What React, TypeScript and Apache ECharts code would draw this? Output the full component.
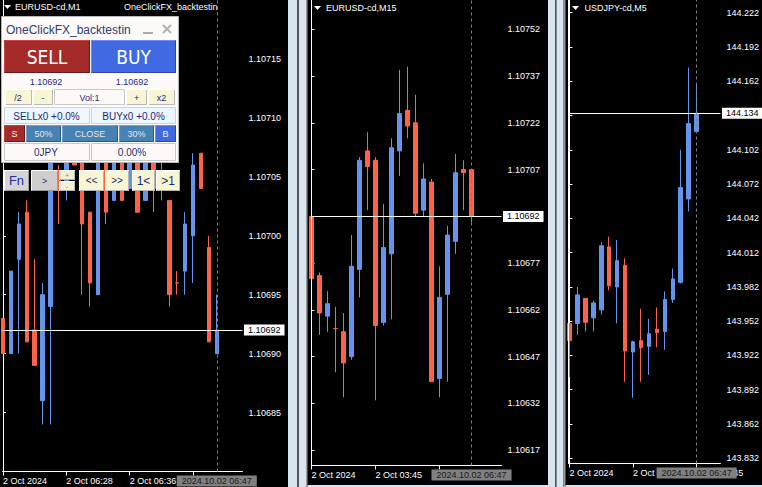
import React, { useEffect, useRef } from 'react';
import * as echarts from 'echarts';

// ---- EURUSD-cd, M1: bars as [open, close, low, high]
const m1Bars: number[][] = [
  [1.10693, 1.1069, 1.1069, 1.10693],
  [1.1069, 1.10697, 1.1069, 1.10697],
  [1.10698, 1.10701, 1.1069, 1.10702],
  [1.10702, 1.10691, 1.10691, 1.10703],
  [1.10692, 1.10689, 1.10689, 1.10698],
  [1.10686, 1.10695, 1.10684, 1.10696],
  [1.10694, 1.10707, 1.10684, 1.10708],
  [1.10705, 1.10704, 1.10701, 1.10706],
  [1.10704, 1.10707, 1.10703, 1.10708],
  [1.1071, 1.10706, 1.10706, 1.10711],
  [1.10707, 1.10701, 1.10695, 1.10708],
  [1.10702, 1.10696, 1.10694, 1.10702],
  [1.10695, 1.10709, 1.10695, 1.1071],
  [1.10708, 1.10702, 1.10701, 1.10709],
  [1.10703, 1.10708, 1.10703, 1.10709],
  [1.10709, 1.10703, 1.10703, 1.1071],
  [1.10704, 1.10708, 1.10704, 1.1071],
  [1.10708, 1.10702, 1.10702, 1.10709],
  [1.10703, 1.10708, 1.10703, 1.10709],
  [1.10708, 1.10704, 1.10702, 1.10709],
  [1.10705, 1.10704, 1.10703, 1.10707],
  [1.10703, 1.10695, 1.10694, 1.10703],
  [1.10696, 1.10696, 1.10695, 1.10697],
  [1.10697, 1.10701, 1.10695, 1.10702],
  [1.107, 1.10706, 1.10696, 1.10707],
  [1.10707, 1.10704, 1.10704, 1.10707],
  [1.10699, 1.10691, 1.10691, 1.107],
  [1.1069, 1.10692, 1.1069, 1.10695],
];
const m1PriceTicks = [1.10715, 1.1071, 1.10705, 1.107, 1.10695, 1.1069, 1.10685];
const m1TimeBars = [0, 8, 16, 24];
// the last tick's label sits under the cursor time box, so only the first three are written
const m1TimeLabels = ['2 Oct 2024', '2 Oct 06:28', '2 Oct 06:36'];
const m1Bid = 1.10692;
const m1CursorBar = 27;

// ---- EURUSD-cd, M15
const m15Bars: number[][] = [
  [1.10692, 1.10672, 1.10672, 1.10693],
  [1.10673, 1.10661, 1.10654, 1.10674],
  [1.1066, 1.10664, 1.10655, 1.10668],
  [1.10656, 1.10656, 1.10642, 1.10663],
  [1.10655, 1.10645, 1.10634, 1.10661],
  [1.10647, 1.10676, 1.10646, 1.10686],
  [1.10675, 1.1071, 1.10666, 1.10711],
  [1.10713, 1.10708, 1.10694, 1.10719],
  [1.1071, 1.10657, 1.10633, 1.10711],
  [1.10658, 1.10682, 1.10657, 1.10696],
  [1.1068, 1.10714, 1.10659, 1.10717],
  [1.10713, 1.10725, 1.10705, 1.10739],
  [1.10726, 1.10721, 1.10717, 1.1074],
  [1.10722, 1.10693, 1.10692, 1.10731],
  [1.10694, 1.10704, 1.10692, 1.10709],
  [1.10703, 1.10639, 1.10639, 1.10704],
  [1.1064, 1.10666, 1.10634, 1.10676],
  [1.10667, 1.10686, 1.10639, 1.10689],
  [1.10684, 1.10706, 1.1068, 1.10712],
  [1.10707, 1.10706, 1.10694, 1.1071],
  [1.10707, 1.10692, 1.1069, 1.10707],
];
const m15PriceTicks = [1.10752, 1.10737, 1.10722, 1.10707, 1.10692, 1.10677, 1.10662, 1.10647, 1.10632, 1.10617];
const m15TimeBars = [0, 8, 16];
const m15TimeLabels = ['2 Oct 2024', '2 Oct 03:45'];
const m15Bid = 1.10692;
const m15CursorBar = 20;

// ---- USDJPY-cd, M5
const m5Bars: number[][] = [
  [143.95, 143.935, 143.903, 143.95],
  [143.95, 143.975, 143.94, 143.982],
  [143.972, 143.951, 143.943, 143.972],
  [143.955, 143.968, 143.943, 143.97],
  [143.962, 144.018, 143.958, 144.021],
  [144.017, 143.983, 143.979, 144.026],
  [143.982, 144.005, 143.95, 144.023],
  [144.001, 143.926, 143.899, 144.007],
  [143.925, 143.934, 143.885, 143.935],
  [143.935, 143.929, 143.899, 143.963],
  [143.93, 143.941, 143.905, 143.954],
  [143.945, 143.942, 143.929, 143.964],
  [143.943, 143.971, 143.927, 143.978],
  [143.971, 143.989, 143.968, 143.998],
  [143.986, 144.069, 143.985, 144.102],
  [144.059, 144.125, 144.048, 144.174],
  [144.118, 144.134, 144.118, 144.159],
];
const m5PriceTicks = [
  144.222, 144.192, 144.162, 144.132, 144.102, 144.072, 144.042, 144.012, 143.982, 143.952, 143.922,
  143.892, 143.862, 143.832,
];
const m5TimeBars = [0, 8, 16];
const m5TimeLabels = ['2 Oct 2024', '2 Oct 06:05', '2 Oct 06:45'];
const m5Bid = 144.134;
const m5CursorBar = 16;

const cursorTime = '2024.10.02 06:47';

const BULL = '#6495ed';
const BEAR = '#ff6347';
const FONT = '"Liberation Sans", Arial, sans-serif';
const NARROW = '"Liberation Sans Narrow", "DejaVu Sans Condensed", "Liberation Sans", sans-serif';
const PANEL_TEXT = '#1c2a78';

type Panel = {
  grid: { left: number; top: number; width: number; height: number };
  xMin: number;
  xMax: number;
  yMin: number;
  yMax: number;
  bars: number[][];
  priceTicks: number[];
  digits: number;
  timeBars: number[];
  timeLabels: string[];
  bid: number;
  cursor: number;
};

const panels: Panel[] = [
  {
    grid: { left: 0, top: 0, width: 242.5, height: 471.5 },
    xMin: -0.0625, xMax: 30.25, yMin: 1.1068, yMax: 1.1072,
    bars: m1Bars, priceTicks: m1PriceTicks, digits: 5,
    timeBars: m1TimeBars, timeLabels: m1TimeLabels, bid: m1Bid, cursor: m1CursorBar,
  },
  {
    grid: { left: 311.5, top: 0, width: 190, height: 465.5 },
    xMin: 0, xMax: 23.75, yMin: 1.106121, yMax: 1.107614,
    bars: m15Bars, priceTicks: m15PriceTicks, digits: 5,
    timeBars: m15TimeBars, timeLabels: m15TimeLabels, bid: m15Bid, cursor: m15CursorBar,
  },
  {
    grid: { left: 568.5, top: 0, width: 153, height: 463.5 },
    xMin: -0.125, xMax: 19.0, yMin: 143.82745, yMax: 144.23312,
    bars: m5Bars, priceTicks: m5PriceTicks, digits: 3,
    timeBars: m5TimeBars, timeLabels: m5TimeLabels, bid: m5Bid, cursor: m5CursorBar,
  },
];

const axisText = { color: '#ffffff', fontSize: 9, fontFamily: FONT };

function rect(x: number, y: number, w: number, h: number, fill: string, stroke?: string, z = 100) {
  return {
    type: 'rect', z, silent: true,
    shape: { x, y, width: w, height: h },
    style: { fill, stroke: stroke || null, lineWidth: 1 },
  };
}

function label(x: number, y: number, text: string, size: number, color: string, align = 'center', family = FONT, z = 102) {
  return {
    type: 'text', z, silent: true, x, y,
    style: { text, fill: color, fontSize: size, fontFamily: family, textAlign: align, textVerticalAlign: 'middle' },
  };
}

function bevel(x: number, y: number, w: number, h: number, fill: string, light: string, dark: string) {
  return [
    rect(x, y, w, h, fill),
    {
      type: 'polyline', z: 101, silent: true,
      shape: { points: [[x + 0.5, y + h - 1], [x + 0.5, y + 0.5], [x + w - 1, y + 0.5]] },
      style: { stroke: light, lineWidth: 1, fill: null },
    },
    {
      type: 'polyline', z: 101, silent: true,
      shape: { points: [[x + 1, y + h - 0.5], [x + w - 0.5, y + h - 0.5], [x + w - 0.5, y + 1]] },
      style: { stroke: dark, lineWidth: 1, fill: null },
    },
  ];
}

function vline(x: number, y1: number, y2: number, color: string, z = 20) {
  return { type: 'line', z, silent: true, shape: { x1: x, y1, x2: x, y2 }, style: { stroke: color, lineWidth: 1 } };
}

function triangle(x: number, y: number) {
  return {
    type: 'polygon', z: 95, silent: true,
    shape: { points: [[x, y], [x + 7, y], [x + 3.5, y + 4]] },
    style: { fill: '#ffffff' },
  };
}

function buildOption() {
  const grids = panels.map((p) => ({ ...p.grid, containLabel: false }));

  const xAxes: any[] = panels.map((p, i) => {
    const labelled = p.timeBars.slice(0, p.timeLabels.length);
    return {
      type: 'value', gridIndex: i, min: p.xMin, max: p.xMax, position: 'bottom',
      axisLine: { show: true, onZero: false, lineStyle: { color: '#ffffff', width: 1 } },
      axisTick: { show: true, customValues: p.timeBars, length: 4, lineStyle: { color: '#ffffff' } },
      axisLabel: {
        ...axisText, customValues: labelled, align: 'left', margin: 5,
        formatter: (v: number) => p.timeLabels[labelled.indexOf(Math.round(v))] ?? '',
      },
      splitLine: { show: false },
    };
  });
  // Time label of the vertical cursor line, drawn on a second bottom axis above the first
  panels.forEach((p, i) => {
    xAxes.push({
      type: 'value', gridIndex: i, min: p.xMin, max: p.xMax, position: 'bottom', z: 5,
      axisLine: { show: false }, axisTick: { show: false }, splitLine: { show: false },
      axisLabel: {
        fontSize: 9, fontFamily: FONT, color: '#1a1a1a', customValues: [p.cursor], align: 'center',
        margin: 4, backgroundColor: '#808080', padding: [1, 5, 1, 5], lineHeight: 9,
        formatter: () => cursorTime,
      },
    });
  });

  const yAxes = panels.map((p, i) => {
    // a price tick hidden under the bid box gets no label of its own
    const pxPerUnit = p.grid.height / (p.yMax - p.yMin);
    const labelled = p.priceTicks.filter((t) => Math.abs(t - p.bid) * pxPerUnit > 8);
    return {
      type: 'value', gridIndex: i, min: p.yMin, max: p.yMax, position: 'right',
      axisLine: { show: true, lineStyle: { color: '#ffffff', width: 1 } },
      axisTick: { show: true, customValues: p.priceTicks, length: 3, lineStyle: { color: '#ffffff' } },
      axisLabel: {
        ...axisText, customValues: labelled, margin: 6,
        formatter: (v: number) => v.toFixed(p.digits),
      },
      splitLine: { show: false },
    };
  });

  const series = panels.map((p, i) => ({
    type: 'candlestick',
    xAxisIndex: i,
    yAxisIndex: i,
    data: p.bars.map((b, k) => [k, b[0], b[1], b[2], b[3]]),
    encode: { x: 0, y: [1, 2, 3, 4] },
    barWidth: 4,
    emphasis: { disabled: true },
    itemStyle: {
      color: BULL, color0: BEAR, borderColor: BULL, borderColor0: BEAR,
      borderColorDoji: BEAR, borderWidth: 1,
    },
    markLine: {
      silent: true,
      symbol: ['none', 'none'],
      animation: false,
      precision: p.digits,
      data: [
        {
          yAxis: p.bid,
          lineStyle: { color: '#ffffff', width: 1, type: 'solid' },
          label: {
            show: true, position: 'end', formatter: p.bid.toFixed(p.digits),
            color: '#000000', backgroundColor: '#ffffff', padding: [1, 4, 0, 4],
            fontSize: 9, fontFamily: FONT, lineHeight: 10, distance: 1.5,
          },
        },
        {
          xAxis: p.cursor,
          lineStyle: { color: '#808080', width: 1, type: [3, 3] },
          label: { show: false },
        },
      ],
    },
  }));

  const SEP = '#d9e4f1';
  const graphics: any[] = [
    // window separators
    rect(288, 0, 9, 487, SEP, undefined, 90),
    rect(297, 0, 2, 487, '#555555', undefined, 90),
    rect(299, 0, 7, 487, SEP, undefined, 90),
    rect(306, 0, 1.5, 487, '#9a9a9a', undefined, 90),
    rect(307.5, 485, 240.5, 2, SEP, undefined, 90),
    rect(548, 0, 7, 487, SEP, undefined, 90),
    rect(555, 0, 1.5, 487, '#555555', undefined, 90),
    rect(556.5, 0, 7, 487, SEP, undefined, 90),
    rect(563.5, 0, 2, 487, '#9a9a9a', undefined, 90),
    rect(565.5, 485, 196.5, 2, SEP, undefined, 90),
    // left frame lines
    vline(311.5, 0, 465.5, '#ffffff'),
    vline(568.5, 0, 463.5, '#ffffff'),
    // window captions
    triangle(4, 5),
    label(15, 7, 'EURUSD-cd,M1', 9, '#ffffff', 'left', FONT, 95),
    label(124, 7, 'OneClickFX_backtestin', 9, '#ffffff', 'left', FONT, 95),
    triangle(314, 6),
    label(326, 7.5, 'EURUSD-cd,M15', 9, '#ffffff', 'left', FONT, 95),
    triangle(572, 6),
    label(584.5, 7.5, 'USDJPY-cd,M5', 9, '#ffffff', 'left', FONT, 95),

    // OneClickFX panel
    rect(1.5, 16.5, 177, 146, '#fffafa', '#b7b7b7'),
    label(6, 29.5, 'OneClickFX_backtestin', 12, '#2e3c72', 'left'),
    rect(143, 32, 10, 2, '#a9a9a9'),
    { type: 'line', z: 102, silent: true, shape: { x1: 163, y1: 25, x2: 171, y2: 33 }, style: { stroke: '#b0b0b0', lineWidth: 2 } },
    { type: 'line', z: 102, silent: true, shape: { x1: 171, y1: 25, x2: 163, y2: 33 }, style: { stroke: '#b0b0b0', lineWidth: 2 } },
    ...bevel(4, 40, 86, 33, '#a52a2a', '#c64444', '#6e1717'),
    label(47, 57, 'SELL', 19, '#ffffff', 'center', NARROW),
    ...bevel(91, 40, 85, 33, '#4169e1', '#6c8ef2', '#2a48a8'),
    label(133.5, 57, 'BUY', 19, '#ffffff', 'center', NARROW),
    label(46, 81.5, m1Bid.toFixed(5), 9, PANEL_TEXT),
    label(132, 81.5, m1Bid.toFixed(5), 9, PANEL_TEXT),
    ...bevel(5, 89, 27, 16, '#f7f5d4', '#ffffff', '#b9b9b9'),
    label(18, 97.5, '/2', 9, PANEL_TEXT),
    ...bevel(33, 89, 20, 16, '#f7f5d4', '#ffffff', '#b9b9b9'),
    label(43, 97.5, '-', 9, PANEL_TEXT),
    rect(54.5, 89.5, 70, 15, '#fffafa', '#c8c8c8'),
    label(89.5, 97.5, 'Vol:1', 9, PANEL_TEXT),
    ...bevel(126, 89, 21, 16, '#f7f5d4', '#ffffff', '#b9b9b9'),
    label(136.5, 97.5, '+', 9, PANEL_TEXT),
    ...bevel(148, 89, 27, 16, '#f7f5d4', '#ffffff', '#b9b9b9'),
    label(161.5, 97.5, 'x2', 9, PANEL_TEXT),
    rect(4.5, 107.5, 85, 16, '#eef6ff', '#d2d2d2'),
    label(46.5, 116, 'SELLx0 +0.0%', 10, PANEL_TEXT),
    rect(91.5, 107.5, 84, 16, '#eef6ff', '#d2d2d2'),
    label(133.5, 116, 'BUYx0 +0.0%', 10, PANEL_TEXT),
    ...bevel(4, 125, 21, 17, '#a52a2a', '#c04040', '#6e1717'),
    label(14.5, 133.5, 'S', 9, '#f2f2f2'),
    ...bevel(26, 125, 35, 17, '#4682b4', '#6a9ecb', '#2c5a82'),
    label(43.5, 133.5, '50%', 9, '#e4e4e4'),
    ...bevel(62, 125, 56, 17, '#4682b4', '#6a9ecb', '#2c5a82'),
    label(90, 133.5, 'CLOSE', 9, '#e4e4e4'),
    ...bevel(119, 125, 35, 17, '#4682b4', '#6a9ecb', '#2c5a82'),
    label(136.5, 133.5, '30%', 9, '#e4e4e4'),
    ...bevel(155, 125, 21, 17, '#4169e1', '#6c8ef2', '#2a48a8'),
    label(165.5, 133.5, 'B', 9, '#f2f2f2'),
    rect(4.5, 143.5, 85, 17, '#fffafa', '#c8c8c8'),
    label(46, 152, '0JPY', 10, PANEL_TEXT),
    rect(91.5, 143.5, 84, 17, '#fffafa', '#c8c8c8'),
    label(132, 152, '0.00%', 10, PANEL_TEXT),

    // navigation buttons
    ...bevel(4, 170, 25, 21, '#d4d4d4', '#ffffff', '#9a9a9a'),
    label(16.5, 180.5, 'Fn', 13, '#2a2a9c'),
    ...bevel(31, 170, 27, 21, '#cdcdcd', '#ffffff', '#9a9a9a'),
    label(44.5, 180.5, '>', 9, PANEL_TEXT),
    ...bevel(59, 170, 16, 10, '#f3f1d2', '#ffffff', '#b5b5b5'),
    label(67, 175, '+', 7, '#8a8a8a'),
    ...bevel(59, 181, 16, 10, '#f3f1d2', '#ffffff', '#b5b5b5'),
    label(67, 186, '-', 7, '#8a8a8a'),
    ...bevel(79, 170, 25, 21, '#f7f5d2', '#ffffff', '#b5b5b5'),
    label(91.5, 180.5, '<<', 10, PANEL_TEXT),
    ...bevel(105, 170, 24, 21, '#f7f5d2', '#ffffff', '#b5b5b5'),
    label(117, 180.5, '>>', 10, PANEL_TEXT),
    ...bevel(132, 170, 23, 21, '#f7f5d2', '#ffffff', '#b5b5b5'),
    label(143.5, 180.5, '1<', 12, PANEL_TEXT),
    ...bevel(156, 170, 24, 21, '#f7f5d2', '#ffffff', '#b5b5b5'),
    label(168, 180.5, '>1', 12, PANEL_TEXT),
  ];

  return {
    animation: false,
    backgroundColor: '#000000',
    grid: grids,
    xAxis: xAxes,
    yAxis: yAxes,
    series,
    graphic: { elements: graphics },
  };
}

export default function App() {
  const ref = useRef<HTMLDivElement>(null);
  useEffect(() => {
    if (!ref.current) return;
    const chart = echarts.init(ref.current, undefined, { renderer: 'svg', width: 762, height: 487 });
    chart.setOption(buildOption() as any);
    return () => chart.dispose();
  }, []);
  return <div ref={ref} style={{ position: 'fixed', left: 0, top: 0, width: 762, height: 487 }} />;
}
